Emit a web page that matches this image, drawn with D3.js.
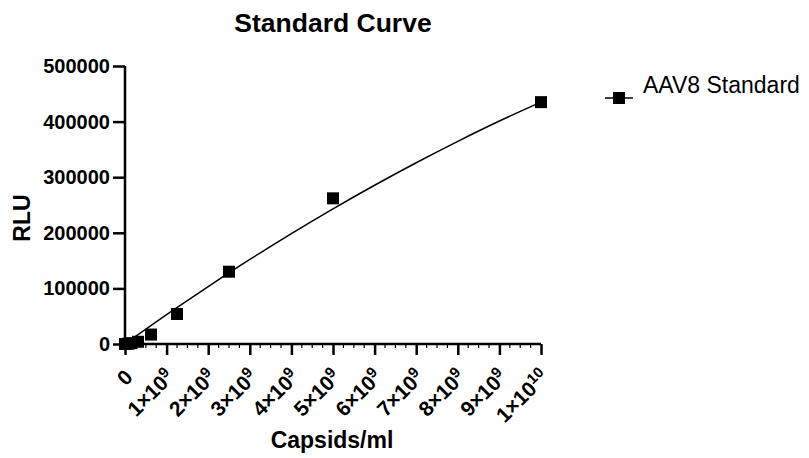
<!DOCTYPE html>
<html>
<head>
<meta charset="utf-8">
<script src="https://cdn.jsdelivr.net/npm/d3@7"></script>
<style>
  body { margin: 0; background: #fff; }
  text { font-family: Arial, "Liberation Sans", sans-serif; fill: #000; }
</style>
</head>
<body>
<script>
  // measured standards (capsids/ml vs RLU)
  var capsids = [0, 7.8e7, 1.5625e8, 3.125e8, 6.25e8, 1.25e9, 2.5e9, 5e9, 1e10];
  var rlu = [0, 500, 1500, 4000, 17000, 54000, 130000, 262000, 435000];

  // fitted curve
  var fitX = [0, 1e9, 2e9, 3e9, 4e9, 5e9, 6e9, 7e9, 8e9, 9e9, 1e10];
  var fitY = [0, 52700, 103400, 152000, 198500, 243000, 285500, 326000, 364500, 401000, 435000];

  var xTicks = [0, 1e9, 2e9, 3e9, 4e9, 5e9, 6e9, 7e9, 8e9, 9e9, 1e10];
  var xTickLabels = ["0", "1×10^9", "2×10^9", "3×10^9", "4×10^9", "5×10^9",
                     "6×10^9", "7×10^9", "8×10^9", "9×10^9", "1×10^10"];
  var yTicks = [0, 100000, 200000, 300000, 400000, 500000];
  var seriesName = "AAV8 Standard";

  var W = 809, H = 458;
  var m = {left: 125, top: 66};
  var pw = 416, ph = 278;

  var svg = d3.select("body")
    .append("svg")
      .attr("width", W)
      .attr("height", H);

  var x = d3.scaleLinear().domain([0, 1e10]).range([0, pw]);
  var y = d3.scaleLinear().domain([0, 500000]).range([ph, 0]);

  var g = svg.append("g")
    .attr("transform", "translate(" + m.left + "," + m.top + ")");

  // minor ticks on x
  var minor = [];
  for (var i = 0; i < xTicks.length - 1; i++) {
    for (var k = 1; k < 4; k++) minor.push(xTicks[i] + (xTicks[i + 1] - xTicks[i]) * k / 4);
  }
  g.selectAll(".minor")
    .data(minor)
    .enter().append("line")
      .attr("x1", function(d) { return x(d); })
      .attr("x2", function(d) { return x(d); })
      .attr("y1", ph)
      .attr("y2", ph + 4)
      .style("stroke", "black")
      .style("stroke-width", 1.2);

  // x axis
  var xAxis = g.append("g")
    .attr("transform", "translate(0," + ph + ")")
    .call(d3.axisBottom(x).tickValues(xTicks).tickSize(11).tickSizeOuter(0).tickFormat(""));
  xAxis.select(".domain").attr("d", "M-6,0H" + pw).style("stroke-width", 2.5);
  xAxis.selectAll(".tick line").style("stroke-width", 2.5);

  xAxis.selectAll(".tick").each(function(d, i) {
    var parts = xTickLabels[i].split("^");
    var t = d3.select(this).append("text")
      .attr("transform", "translate(-2,24) rotate(-45)")
      .attr("text-anchor", "end")
      .attr("dy", "0.7em")
      .style("font-size", "21px")
      .style("font-weight", "bold");
    t.append("tspan").text(parts[0]);
    if (parts[1]) {
      t.append("tspan")
        .attr("dy", "-0.5em")
        .style("font-size", "15px")
        .text(parts[1]);
    }
  });

  // y axis
  var yAxis = g.append("g")
    .call(d3.axisLeft(y).tickValues(yTicks).tickSize(12).tickSizeOuter(0).tickFormat(d3.format("d")));
  yAxis.select(".domain").attr("d", "M0,0V" + (ph + 6)).style("stroke-width", 2.5);
  yAxis.selectAll(".tick line").style("stroke-width", 2.5);
  yAxis.selectAll(".tick text")
    .attr("x", -15)
    .style("font-size", "20px")
    .style("font-weight", "bold");

  // fitted curve
  var line = d3.line()
    .x(function(d) { return x(d[0]); })
    .y(function(d) { return y(d[1]); })
    .curve(d3.curveMonotoneX);

  g.append("path")
    .datum(d3.zip(fitX, fitY))
    .attr("d", line)
    .style("fill", "none")
    .style("stroke", "black")
    .style("stroke-width", 1.5);

  // points
  var s = 12;
  g.selectAll(".pt")
    .data(d3.zip(capsids, rlu))
    .enter().append("rect")
      .attr("x", function(d) { return x(d[0]) - s / 2; })
      .attr("y", function(d) { return y(d[1]) - s / 2; })
      .attr("width", s)
      .attr("height", s)
      .style("fill", "black");

  // titles
  svg.append("text")
    .attr("x", m.left + pw / 2)
    .attr("y", 32)
    .attr("text-anchor", "middle")
    .style("font-size", "26.5px")
    .style("font-weight", "bold")
    .text("Standard Curve");

  svg.append("text")
    .attr("x", m.left + pw / 2 - 1)
    .attr("y", 448)
    .attr("text-anchor", "middle")
    .style("font-size", "23px")
    .style("font-weight", "bold")
    .text("Capsids/ml");

  svg.append("text")
    .attr("transform", "translate(30,218) rotate(-90)")
    .attr("text-anchor", "middle")
    .style("font-size", "23px")
    .style("font-weight", "bold")
    .text("RLU");

  // legend
  var lg = svg.append("g").attr("transform", "translate(605,98)");
  lg.append("line")
    .attr("x1", 0).attr("x2", 28)
    .style("stroke", "black")
    .style("stroke-width", 1.5);
  lg.append("rect")
    .attr("x", 14 - s / 2).attr("y", -s / 2)
    .attr("width", s).attr("height", s)
    .style("fill", "black");
  lg.append("text")
    .attr("x", 38)
    .attr("y", -5)
    .style("font-size", "23px")
    .text(seriesName);
</script>
</body>
</html>
